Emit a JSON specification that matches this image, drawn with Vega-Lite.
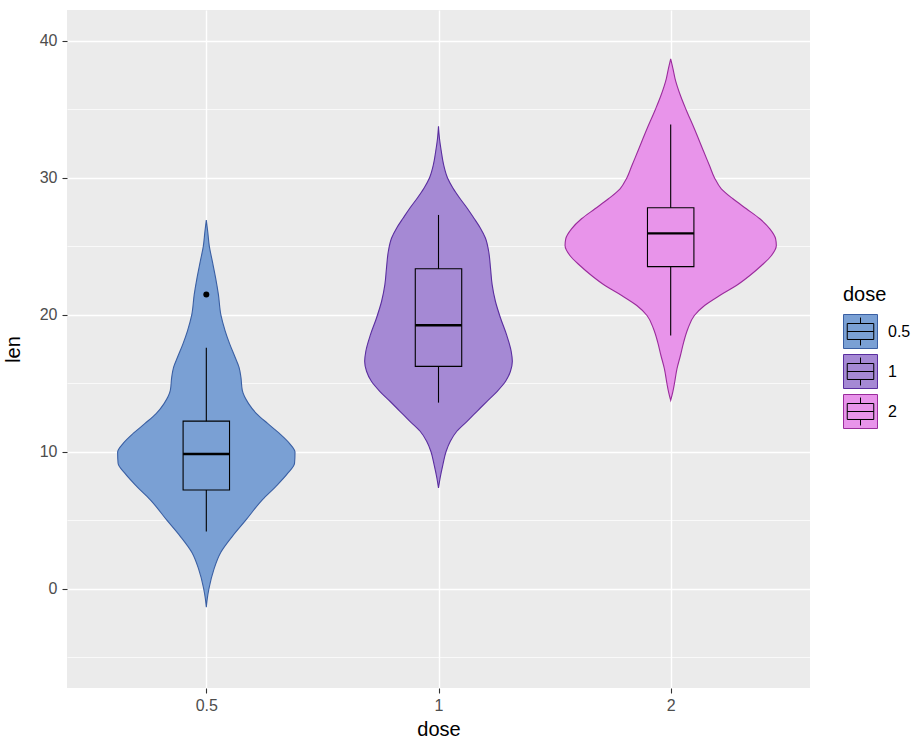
{
  "$schema": "https://vega.github.io/schema/vega-lite/v6.json",
  "width": 743,
  "height": 678,
  "autosize": {"type": "none"},
  "padding": {"left": 67, "top": 10, "right": 106, "bottom": 60},
  "background": "white",
  "config": {
    "view": {"fill": "#EBEBEB", "stroke": null},
    "font": "Liberation Sans",
    "axis": {
      "domain": false,
      "gridColor": "white",
      "tickColor": "#333333",
      "tickSize": 5,
      "tickWidth": 1.1,
      "labelColor": "#4D4D4D",
      "labelFontSize": 16,
      "labelFont": "Liberation Sans",
      "titleFont": "Liberation Sans",
      "titleFontSize": 20,
      "titleFontWeight": "normal",
      "titleColor": "black",
      "labelFlush": false,
      "labelBound": false,
      "labelOverlap": false
    },
    "legend": {"labelFont": "Liberation Sans", "titleFont": "Liberation Sans"}
  },
  "datasets": {
    "violin": [
      {"dose": "0.5", "len": 26.93, "w": 0},
      {"dose": "0.5", "len": 26.09, "w": 0.006},
      {"dose": "0.5", "len": 25.0, "w": 0.013},
      {"dose": "0.5", "len": 23.91, "w": 0.026},
      {"dose": "0.5", "len": 22.71, "w": 0.04},
      {"dose": "0.5", "len": 21.5, "w": 0.052},
      {"dose": "0.5", "len": 19.98, "w": 0.063},
      {"dose": "0.5", "len": 18.84, "w": 0.081},
      {"dose": "0.5", "len": 17.87, "w": 0.101},
      {"dose": "0.5", "len": 16.91, "w": 0.124},
      {"dose": "0.5", "len": 16.18, "w": 0.141},
      {"dose": "0.5", "len": 15.46, "w": 0.149},
      {"dose": "0.5", "len": 14.49, "w": 0.155},
      {"dose": "0.5", "len": 13.53, "w": 0.182},
      {"dose": "0.5", "len": 12.8, "w": 0.216},
      {"dose": "0.5", "len": 12.08, "w": 0.264},
      {"dose": "0.5", "len": 11.35, "w": 0.315},
      {"dose": "0.5", "len": 10.63, "w": 0.358},
      {"dose": "0.5", "len": 9.98, "w": 0.382},
      {"dose": "0.5", "len": 9.18, "w": 0.38},
      {"dose": "0.5", "len": 8.45, "w": 0.351},
      {"dose": "0.5", "len": 7.49, "w": 0.3},
      {"dose": "0.5", "len": 6.52, "w": 0.242},
      {"dose": "0.5", "len": 5.02, "w": 0.17},
      {"dose": "0.5", "len": 3.86, "w": 0.113},
      {"dose": "0.5", "len": 2.66, "w": 0.062},
      {"dose": "0.5", "len": 1.45, "w": 0.033},
      {"dose": "0.5", "len": 0.07, "w": 0.012},
      {"dose": "0.5", "len": -0.72, "w": 0.004},
      {"dose": "0.5", "len": -1.33, "w": 0},
      {"dose": "1", "len": 33.77, "w": 0},
      {"dose": "1", "len": 32.92, "w": 0.004},
      {"dose": "1", "len": 31.95, "w": 0.012},
      {"dose": "1", "len": 30.97, "w": 0.022},
      {"dose": "1", "len": 30.0, "w": 0.039},
      {"dose": "1", "len": 29.27, "w": 0.062},
      {"dose": "1", "len": 28.54, "w": 0.091},
      {"dose": "1", "len": 27.81, "w": 0.123},
      {"dose": "1", "len": 27.08, "w": 0.152},
      {"dose": "1", "len": 26.35, "w": 0.18},
      {"dose": "1", "len": 25.62, "w": 0.202},
      {"dose": "1", "len": 24.65, "w": 0.216},
      {"dose": "1", "len": 23.43, "w": 0.224},
      {"dose": "1", "len": 22.21, "w": 0.231},
      {"dose": "1", "len": 21.0, "w": 0.245},
      {"dose": "1", "len": 19.78, "w": 0.267},
      {"dose": "1", "len": 18.56, "w": 0.293},
      {"dose": "1", "len": 17.35, "w": 0.313},
      {"dose": "1", "len": 16.62, "w": 0.318},
      {"dose": "1", "len": 15.89, "w": 0.31},
      {"dose": "1", "len": 15.16, "w": 0.289},
      {"dose": "1", "len": 14.43, "w": 0.253},
      {"dose": "1", "len": 13.7, "w": 0.209},
      {"dose": "1", "len": 12.97, "w": 0.166},
      {"dose": "1", "len": 12.24, "w": 0.123},
      {"dose": "1", "len": 11.51, "w": 0.079},
      {"dose": "1", "len": 10.78, "w": 0.051},
      {"dose": "1", "len": 10.05, "w": 0.033},
      {"dose": "1", "len": 9.08, "w": 0.019},
      {"dose": "1", "len": 8.1, "w": 0.007},
      {"dose": "1", "len": 7.37, "w": 0},
      {"dose": "2", "len": 38.7, "w": 0},
      {"dose": "2", "len": 37.97, "w": 0.01},
      {"dose": "2", "len": 37.24, "w": 0.019},
      {"dose": "2", "len": 36.02, "w": 0.042},
      {"dose": "2", "len": 35.0, "w": 0.066},
      {"dose": "2", "len": 33.59, "w": 0.102},
      {"dose": "2", "len": 31.89, "w": 0.143},
      {"dose": "2", "len": 30.91, "w": 0.167},
      {"dose": "2", "len": 30.0, "w": 0.189},
      {"dose": "2", "len": 29.21, "w": 0.218},
      {"dose": "2", "len": 28.48, "w": 0.268},
      {"dose": "2", "len": 27.75, "w": 0.326},
      {"dose": "2", "len": 27.02, "w": 0.384},
      {"dose": "2", "len": 26.29, "w": 0.427},
      {"dose": "2", "len": 25.56, "w": 0.452},
      {"dose": "2", "len": 25.07, "w": 0.455},
      {"dose": "2", "len": 24.34, "w": 0.434},
      {"dose": "2", "len": 23.61, "w": 0.391},
      {"dose": "2", "len": 22.88, "w": 0.341},
      {"dose": "2", "len": 22.15, "w": 0.283},
      {"dose": "2", "len": 21.42, "w": 0.211},
      {"dose": "2", "len": 20.69, "w": 0.146},
      {"dose": "2", "len": 19.96, "w": 0.102},
      {"dose": "2", "len": 18.99, "w": 0.074},
      {"dose": "2", "len": 18.02, "w": 0.056},
      {"dose": "2", "len": 17.04, "w": 0.042},
      {"dose": "2", "len": 16.07, "w": 0.027},
      {"dose": "2", "len": 14.98, "w": 0.016},
      {"dose": "2", "len": 14.37, "w": 0.009},
      {"dose": "2", "len": 13.76, "w": 0}
    ],
    "boxes": [
      {"dose": "0.5", "lower": 4.2, "q1": 7.225, "median": 9.85, "q3": 12.25, "upper": 17.6},
      {"dose": "1", "lower": 13.6, "q1": 16.25, "median": 19.25, "q3": 23.375, "upper": 27.3},
      {"dose": "2", "lower": 18.5, "q1": 23.525, "median": 25.95, "q3": 27.825, "upper": 33.9}
    ],
    "outliers": [
      {"dose": "0.5", "len": 21.5}
    ]
  },
  "layer": [
    {
      "data": {"name": "violin"},
      "transform": [
        {"calculate": "indexof(['0.5','1','2'], datum.dose) + 1", "as": "idx"},
        {"calculate": "datum.idx - datum.w", "as": "lo"},
        {"calculate": "datum.idx + datum.w", "as": "hi"}
      ],
      "mark": {"type": "area", "orient": "horizontal", "interpolate": "monotone", "strokeWidth": 1.1, "opacity": 1},
      "encoding": {
        "y": {
          "field": "len", "type": "quantitative",
          "scale": {"domain": [-7.23, 42.26], "nice": false, "zero": false},
          "axis": {
            "title": "len",
            "values": [-5, 0, 5, 10, 15, 20, 25, 30, 35, 40],
            "labelExpr": "datum.value % 10 === 0 ? datum.label : ''",
            "tickOpacity": {"condition": {"test": "datum.value % 10 !== 0", "value": 0}, "value": 1},
            "gridWidth": {"condition": {"test": "datum.value % 10 !== 0", "value": 0.7}, "value": 1.4},
            "labelPadding": 5,
            "titlePadding": 16
          }
        },
        "x": {
          "field": "lo", "type": "quantitative", "stack": null,
          "scale": {"domain": [0.4, 3.6], "nice": false, "zero": false},
          "axis": {
            "title": "dose",
            "values": [1, 2, 3],
            "labelExpr": "datum.value == 1 ? '0.5' : datum.value == 2 ? '1' : '2'",
            "gridWidth": 1.4,
            "labelPadding": 4,
            "titlePadding": 6
          }
        },
        "x2": {"field": "hi"},
        "fill": {
          "field": "dose", "type": "nominal",
          "scale": {"domain": ["0.5", "1", "2"], "range": ["#7AA0D4", "#A589D4", "#E894EA"]},
          "legend": {
            "title": "dose",
            "orient": "none",
            "legendX": 776,
            "legendY": 275,
            "symbolType": "square",
            "symbolSize": 1156,
            "symbolStrokeWidth": 1,
            "labelFontSize": 16,
            "labelColor": "black",
            "titleFontSize": 20,
            "titleFontWeight": "normal",
            "titleColor": "black",
            "titlePadding": 9,
            "rowPadding": 1,
            "labelOffset": 10,
            "padding": 0
          }
        },
        "stroke": {
          "field": "dose", "type": "nominal",
          "scale": {"domain": ["0.5", "1", "2"], "range": ["#3A5FA3", "#5A2E9F", "#9A2C9C"]}
        }
      }
    },
    {
      "data": {"name": "boxes"},
      "transform": [
        {"calculate": "indexof(['0.5','1','2'], datum.dose) + 1", "as": "idx"}
      ],
      "mark": {"type": "rule", "color": "black", "strokeWidth": 1.1},
      "encoding": {
        "x": {"field": "idx", "type": "quantitative", "title": "dose"},
        "y": {"field": "lower", "type": "quantitative", "title": "len"},
        "y2": {"field": "upper"}
      }
    },
    {
      "data": {"name": "boxes"},
      "transform": [
        {"calculate": "indexof(['0.5','1','2'], datum.dose) + 1", "as": "idx"},
        {"calculate": "datum.idx - 0.1", "as": "bl"},
        {"calculate": "datum.idx + 0.1", "as": "br"}
      ],
      "mark": {"type": "rect", "stroke": "black", "strokeWidth": 1.1},
      "encoding": {
        "x": {"field": "bl", "type": "quantitative", "title": "dose"},
        "x2": {"field": "br"},
        "y": {"field": "q1", "type": "quantitative", "title": "len"},
        "y2": {"field": "q3"},
        "fill": {"field": "dose", "type": "nominal"},
        "opacity": {
          "field": "dose", "type": "ordinal",
          "scale": {"range": [1, 1, 1]},
          "legend": {
            "title": "dose",
            "orient": "none",
            "legendX": 776,
            "legendY": 275,
            "symbolType": "M0,-0.82V-0.47M-0.78,-0.47H0.78V0.47H-0.78ZM-0.78,0H0.78M0,0.47V0.82M-1,-1M1,1",
            "symbolSize": 1156,
            "symbolFillColor": "transparent",
            "symbolStrokeColor": "black",
            "symbolStrokeWidth": 1,
            "labelFontSize": 16,
            "labelOpacity": 0,
            "titleFontSize": 20,
            "titleFontWeight": "normal",
            "titleOpacity": 0,
            "titlePadding": 9,
            "rowPadding": 1,
            "labelOffset": 10,
            "padding": 0
          }
        }
      }
    },
    {
      "data": {"name": "boxes"},
      "transform": [
        {"calculate": "indexof(['0.5','1','2'], datum.dose) + 1", "as": "idx"},
        {"calculate": "datum.idx - 0.1", "as": "bl"},
        {"calculate": "datum.idx + 0.1", "as": "br"}
      ],
      "mark": {"type": "rule", "color": "black", "strokeWidth": 2.3},
      "encoding": {
        "x": {"field": "bl", "type": "quantitative", "title": "dose"},
        "x2": {"field": "br"},
        "y": {"field": "median", "type": "quantitative", "title": "len"}
      }
    },
    {
      "data": {"name": "outliers"},
      "transform": [
        {"calculate": "indexof(['0.5','1','2'], datum.dose) + 1", "as": "idx"}
      ],
      "mark": {"type": "circle", "color": "black", "size": 36, "opacity": 1},
      "encoding": {
        "x": {"field": "idx", "type": "quantitative", "title": "dose"},
        "y": {"field": "len", "type": "quantitative", "title": "len"}
      }
    }
  ]
}
